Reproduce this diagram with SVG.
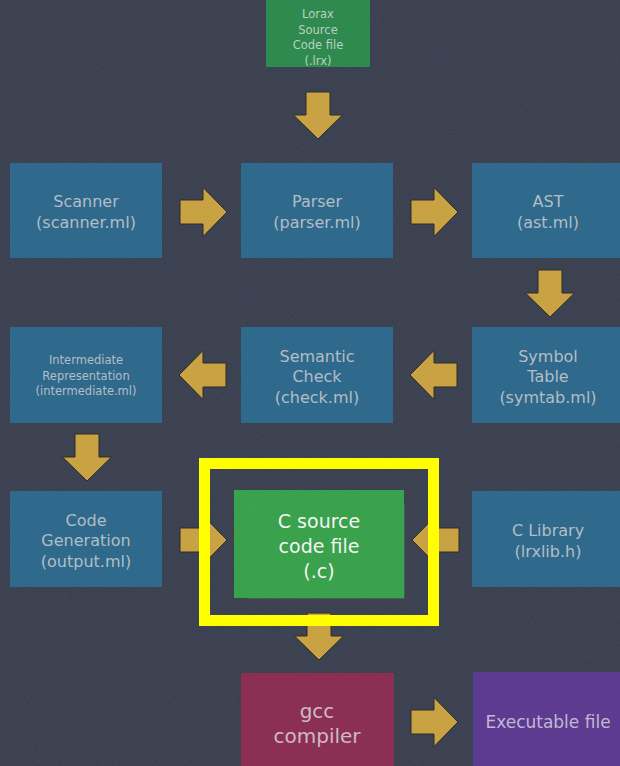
<svg xmlns="http://www.w3.org/2000/svg" xmlns:xlink="http://www.w3.org/1999/xlink" width="620" height="766" viewBox="0 0 620 766">
  <defs>
    <filter id="grain" x="0" y="0" width="100%" height="100%">
      <feTurbulence type="fractalNoise" baseFrequency="0.9" numOctaves="2" seed="3" result="n"/>
      <feColorMatrix type="matrix" values="0 0 0 0 0.7  0 0 0 0 0.73  0 0 0 0 0.8  0 0 0 0.09 0"/>
    </filter>
    <path id="arr" d="M0,-12 H23 V-24.5 L47,0 L23,24.5 V12 H0 Z"/>
  </defs>
  <style>
    .bg { fill: #363b4b; }
    .blue { fill: #2f6a8c; }
    .lorax { fill: #2f8a4f; }
    .csrc { fill: #3aa14d; }
    .gcc { fill: #8c2f55; }
    .exe { fill: #5d3b90; }
    text { font-family: "DejaVu Sans", Verdana, sans-serif; text-anchor: middle; }
    .t { font-size: 16px; fill: #b3bdc5; }
    .s { font-size: 11.5px; fill: #b3bdc5; }
    .ls { font-size: 11.5px; fill: #b9d0c0; }
    .w { font-size: 19px; fill: #f3f6f1; }
    .g { font-size: 20px; fill: #cdbcc4; }
    .e { font-size: 17px; fill: #c3b8d2; }
    .conn use { fill: #c8a243; stroke: #2c2c28; stroke-width: 1; }
    .hl { fill: none; stroke: #ffff00; stroke-width: 11; }
  </style>

  <rect class="bg" x="0" y="0" width="620" height="766"/>
  <rect x="0" y="0" width="620" height="766" filter="url(#grain)"/>

  <g id="lorax">
    <rect class="lorax" x="266" y="0" width="104" height="67"/>
    <text class="ls" x="318" y="18">Lorax</text>
    <text class="ls" x="318" y="34">Source</text>
    <text class="ls" x="318" y="49">Code file</text>
    <text class="ls" x="318" y="65">(.lrx)</text>
  </g>

  <g id="scanner">
    <rect class="blue" x="10" y="163" width="152" height="95"/>
    <text class="t" x="86" y="207">Scanner</text>
    <text class="t" x="86" y="228">(scanner.ml)</text>
  </g>

  <g id="parser">
    <rect class="blue" x="241" y="163" width="152" height="95"/>
    <text class="t" x="317" y="207">Parser</text>
    <text class="t" x="317" y="228">(parser.ml)</text>
  </g>

  <g id="ast">
    <rect class="blue" x="472" y="163" width="148" height="95"/>
    <text class="t" x="548" y="207">AST</text>
    <text class="t" x="548" y="228">(ast.ml)</text>
  </g>

  <g id="intermediate">
    <rect class="blue" x="10" y="327" width="152" height="96"/>
    <text class="s" x="86" y="364">Intermediate</text>
    <text class="s" x="86" y="380">Representation</text>
    <text class="s" x="86" y="395">(intermediate.ml)</text>
  </g>

  <g id="semantic">
    <rect class="blue" x="241" y="327" width="152" height="96"/>
    <text class="t" x="317" y="362">Semantic</text>
    <text class="t" x="317" y="382">Check</text>
    <text class="t" x="317" y="403">(check.ml)</text>
  </g>

  <g id="symtab">
    <rect class="blue" x="472" y="327" width="148" height="96"/>
    <text class="t" x="548" y="362">Symbol</text>
    <text class="t" x="548" y="382">Table</text>
    <text class="t" x="548" y="403">(symtab.ml)</text>
  </g>

  <g id="codegen">
    <rect class="blue" x="10" y="491" width="152" height="96"/>
    <text class="t" x="86" y="526">Code</text>
    <text class="t" x="86" y="546">Generation</text>
    <text class="t" x="86" y="567">(output.ml)</text>
  </g>

  <g id="csource">
    <rect class="csrc" x="234" y="490" width="170" height="108"/>
    <rect x="248" y="505" width="156" height="93" fill="none" stroke="#41a754" stroke-width="1" opacity="0.6"/>
    <text class="w" x="319" y="528">C source</text>
    <text class="w" x="319" y="553">code file</text>
    <text class="w" x="319" y="578">(.c)</text>
  </g>

  <g id="clibrary">
    <rect class="blue" x="472" y="491" width="148" height="96"/>
    <text class="t" x="548" y="536">C Library</text>
    <text class="t" x="548" y="557">(lrxlib.h)</text>
  </g>

  <g id="gcc">
    <rect class="gcc" x="241" y="673" width="153" height="93"/>
    <text class="g" x="317" y="718">gcc</text>
    <text class="g" x="317" y="743">compiler</text>
  </g>

  <g id="executable">
    <rect class="exe" x="473" y="672" width="147" height="94"/>
    <text class="e" x="548" y="728">Executable file</text>
  </g>

  <g id="connectors" class="conn">
    <use xlink:href="#arr" transform="translate(318,92) rotate(90)"/>
    <use xlink:href="#arr" transform="translate(180,212)"/>
    <use xlink:href="#arr" transform="translate(411,212)"/>
    <use xlink:href="#arr" transform="translate(550,270) rotate(90)"/>
    <use xlink:href="#arr" transform="translate(457,375) rotate(180)"/>
    <use xlink:href="#arr" transform="translate(226,375) rotate(180)"/>
    <use xlink:href="#arr" transform="translate(87,434) rotate(90)"/>
    <use xlink:href="#arr" transform="translate(180,540)"/>
    <use xlink:href="#arr" transform="translate(459,540) rotate(180)"/>
    <use xlink:href="#arr" transform="translate(319,613) rotate(90)"/>
    <use xlink:href="#arr" transform="translate(411,722)"/>
  </g>

  <g id="highlight">
    <rect class="hl" x="204.5" y="463.5" width="229" height="157"/>
  </g>
</svg>
